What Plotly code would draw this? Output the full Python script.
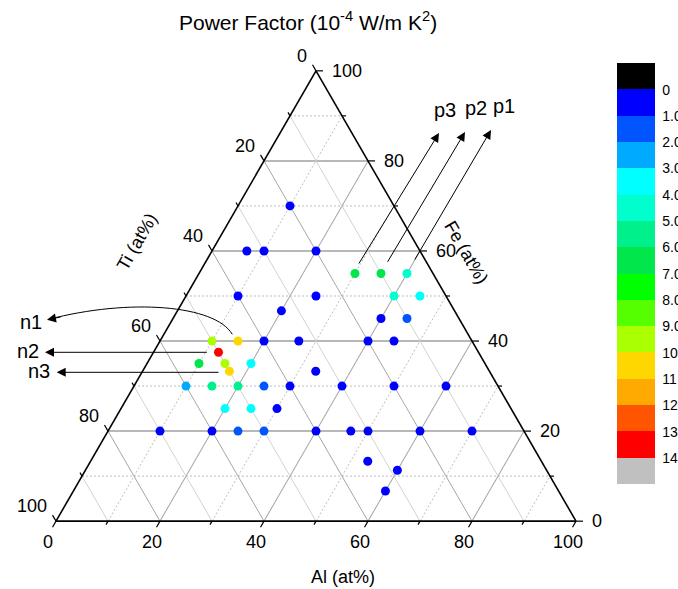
import numpy as np
import plotly.graph_objects as go

# ---------------- data (at%) ----------------
al = [10, 6.7, 10, 20, 30, 35, 40, 10, 25, 40, 45, 20, 40, 45,
      10, 15, 20, 26.7, 40, 45, 12.5, 10, 15, 20, 16.7, 33.3,
      10, 15, 20, 25, 30, 40, 50, 60, 20, 25, 30,
      10, 20, 25, 30, 40, 46.7, 50, 60, 70, 53.3, 60, 60]
fe = [70, 60, 60, 60, 55, 55, 55, 50, 50, 50, 50, 46.7, 45, 45,
      40, 40, 40, 40, 40, 40, 37.5, 35, 35, 35, 33.3, 33.3,
      30, 30, 30, 30, 30, 30, 30, 30, 25, 25, 25,
      20, 20, 20, 20, 20, 20, 20, 20, 20, 13.3, 11.3, 6.7]
ti = [round(100 - a - f, 1) for a, f in zip(al, fe)]
# power factor (1e-4 W/m K^2)
pf = [0.5, 0.5, 0.5, 0.5, 6.5, 6.5, 4.5, 0.5, 0.5, 4.5, 3.5, 0.5, 0.5, 1.5,
      9.5, 10.5, 0.5, 0.5, 0.5, 0.5, 13.5, 6.5, 9.5, 3.5, 10.5, 0.5,
      2.5, 5.5, 5.5, 1.5, 0.5, 0.5, 0.5, 0.5, 3.5, 3.5, 0.5,
      0.5, 0.5, 1.5, 1.5, 0.5, 0.5, 0.5, 0.5, 0.5, 0.5, 0.5, 0.5]

# colour levels (top of bar -> bottom): below 0, 0-1, ..., 13-14, above 14
level_colors = ["#000000", "#0000ff", "#0055ff", "#00aaff", "#00ffff", "#00ffcc",
                "#00f08c", "#00e64b", "#00ff00", "#55ff00", "#aaff00", "#ffd700",
                "#ffaa00", "#ff5500", "#ff0000", "#c0c0c0"]
cbar_labels = ["0", "1.0", "2.0", "3.0", "4.0", "5.0", "6.0", "7.0", "8.0", "9.0",
               "10", "11", "12", "13", "14"]
cbar_levels = list(range(0, 15))

major = [20, 40, 60, 80]
minor = [10, 30, 50, 70, 90]
tick_all = list(range(0, 101, 10))

# ---------------- geometry ----------------
SH = 0
FW, FH = 678, 589
ML, MR, MT, MB = 56, 102, 50, 47
GW, GH = FW - ML - MR, FH - MT - MB
TW = GW
TH = TW * np.sqrt(3) / 2
X0 = SH + ML + GW / 2 - TW / 2          # screen coordinates
YTOP = SH + MT + GH / 2 - TH / 2
YBASE = YTOP + TH


def pix(a_l, f_e):
    return X0 + TW * (a_l + f_e / 2) / 100, YBASE - TH * f_e / 100


def pap(x, y):
    return (x - SH - ML) / GW, 1 - (y - SH - MT) / GH


FONT = "Liberation Sans, Arial, sans-serif"
fig = go.Figure()

# minor grid
def seg_trace(segs, color, dash):
    A, B, C = [], [], []
    for (f1, t1, a1), (f2, t2, a2) in segs:
        A += [f1, f2, None]; B += [t1, t2, None]; C += [a1, a2, None]
    return go.Scatterternary(a=A, b=B, c=C, mode="lines",
                             line=dict(color=color, width=1, dash=dash),
                             hoverinfo="skip", showlegend=False)

seg_fe, seg_al, seg_ti = [], [], []
for k in minor:
    seg_fe.append(((k, 100 - k, 0), (k, 0, 100 - k)))      # Fe = k
    seg_al.append(((0, 100 - k, k), (100 - k, 0, k)))      # Al = k
    seg_ti.append(((0, k, 100 - k), (100 - k, k, 0)))      # Ti = k
fig.add_trace(seg_trace(seg_ti, "#d2d2d2", "solid"))
fig.add_trace(seg_trace(seg_fe, "#bdbdbd", "2px,2px"))
fig.add_trace(seg_trace(seg_al, "#bdbdbd", "2px,2px"))

# data points; colour value mirrored so the bar reads 0 at top
nlev = len(level_colors)
cs = []
for i, c in enumerate(level_colors[::-1]):
    cs += [[i / nlev, c], [(i + 1) / nlev, c]]
top_val = cbar_levels[-1]
fig.add_trace(go.Scatterternary(
    a=fe, b=ti, c=al, mode="markers",
    marker=dict(size=9, color=[top_val - v for v in pf], colorscale=cs,
                cmin=-1, cmax=top_val + 1, line=dict(width=0),
                colorbar=dict(x=pap(617, 0)[0], xanchor="left", xpad=0,
                              y=pap(0, 63.3)[1], yanchor="top", ypad=0,
                              len=421, lenmode="pixels", thickness=38,
                              outlinewidth=0, ticks="outside", ticklen=5,
                              tickcolor="rgba(0,0,0,0)",
                              tickvals=[top_val - v for v in cbar_levels],
                              ticktext=cbar_labels,
                              tickfont=dict(family=FONT, size=14, color="black"))),
    showlegend=False, hoverinfo="skip"))

axis_common = dict(showticklabels=False, ticks="", tickmode="array", tickvals=major,
                   showgrid=True, gridcolor="#a6a6a6", gridwidth=1,
                   linecolor="black", linewidth=1.6, showline=True, title=dict(text=""))
fig.update_layout(
    width=FW, height=FH, margin=dict(l=ML, r=MR, t=MT, b=MB, autoexpand=False),
    paper_bgcolor="white", plot_bgcolor="white",
    ternary=dict(sum=100, bgcolor="white",
                 aaxis=dict(axis_common, gridcolor="#b8b8b8", gridwidth=1.5),
                 baxis=axis_common, caxis=axis_common),
    font=dict(family=FONT, size=18, color="black"),
)

shapes, annos = [], []
TICK_MAJ, TICK_MIN = 7, 4


def tick(x, y, dx, dy, L):
    p0 = pap(x, y); p1 = pap(x + dx * L, y + dy * L)
    shapes.append(dict(type="line", xref="paper", yref="paper", x0=p0[0], y0=p0[1],
                       x1=p1[0], y1=p1[1], line=dict(color="black", width=1.2)))


def text(x, y, s, xanchor="center", yanchor="middle", size=18, angle=0):
    p = pap(x, y)
    annos.append(dict(x=p[0], y=p[1], xref="paper", yref="paper", text=s,
                      showarrow=False, xanchor=xanchor, yanchor=yanchor,
                      textangle=angle, font=dict(family=FONT, size=size, color="black")))


s32 = np.sqrt(3) / 2
for k in tick_all:
    L = TICK_MAJ if k % 20 == 0 else TICK_MIN
    # Al along bottom
    x, y = pix(k, 0); tick(x, y, -0.5, s32, L)
    if k % 20 == 0:
        text(x - 8, y + 21, str(k))
    # Fe along right edge
    x, y = pix(100 - k, k); tick(x, y, 1, 0, L)
    if k % 20 == 0:
        text(x + 13.5, y, str(k), xanchor="left")
    # Ti along left edge
    x, y = pix(0, 100 - k); tick(x, y, -0.5, -s32, L)
    if k % 20 == 0:
        text(x - 7, y - 15, str(k), xanchor="right")

# axis titles
text(343, 577, "Al (at%)")
text(466, 252, "Fe (at%)", angle=60)
text(137, 242, "Ti (at%)", angle=-60)
text(308, 21, "Power Factor (10<sup>-4</sup> W/m K<sup>2</sup>)", size=21)

# arrows p1..p3 (tail -> head) and n2, n3
def arrow(tail, head):
    p = pap(*head)
    annos.append(dict(x=p[0], y=p[1], xref="paper", yref="paper", text="",
                      showarrow=True, ax=tail[0] - head[0], ay=tail[1] - head[1],
                      arrowhead=2, arrowsize=1.8, arrowwidth=1, arrowcolor="black",
                      standoff=0))

arrow((358, 265), (439, 133))
arrow((386.7, 263.3), (465, 132))
arrow((414, 261), (491, 130))
arrow((208.3, 352.3), (45, 352.3))
arrow((220, 372.3), (56.7, 372.3))
# n1: curved
P = [(232.3, 334.3), (215, 305), (130, 298), (48, 319.5)]
pp = [pap(*q) for q in P]
shapes.append(dict(type="path", xref="paper", yref="paper",
                   path="M {} {} C {} {}, {} {}, {} {}".format(pp[0][0], pp[0][1], pp[1][0], pp[1][1],
                                                              pp[2][0], pp[2][1], pp[3][0], pp[3][1]),
                   line=dict(color="black", width=1)))
arrow((62, 316.8), (47, 319.7))

text(445, 110, "p3", size=20)
text(476, 108, "p2", size=20)
text(504, 106, "p1", size=20)
text(31, 322, "n1", size=20)
text(28, 351, "n2", size=20)
text(39, 371, "n3", size=20)

fig.update_layout(shapes=shapes, annotations=annos)
fig.write_html("out.html", config={"displayModeBar": False},
               post_script="document.body.style.margin='0px';document.body.style.overflow='hidden';")
